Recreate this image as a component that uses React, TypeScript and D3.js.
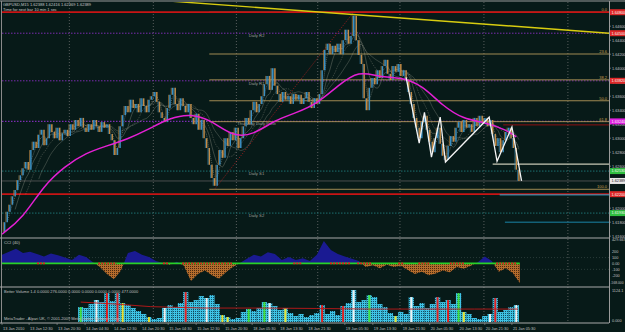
import React from 'react';
import * as d3 from 'd3';

// ---------- DATA ----------
// closes sampled every 3 M15 bars (bar index = 3 * i)
const closes = [
  1.6166, 1.6180, 1.6195, 1.6205, 1.6217, 1.6226, 1.6240, 1.6247, 1.6257, 1.6266,
  1.6255, 1.6283, 1.6295, 1.6286, 1.6305, 1.6312, 1.6290, 1.6300, 1.6320, 1.6309,
  1.6300, 1.6315, 1.6297, 1.6307, 1.6312, 1.6303, 1.6320, 1.6312, 1.6326, 1.6317,
  1.6329, 1.6315, 1.6309, 1.6320, 1.6312, 1.6326, 1.6317, 1.6309, 1.6323, 1.6315,
  1.6320, 1.6306, 1.6297, 1.6276, 1.6286, 1.6317, 1.6333, 1.6346, 1.6337, 1.6355,
  1.6343, 1.6349, 1.6337, 1.6357, 1.6346, 1.6337, 1.6355, 1.6360, 1.6366, 1.6352,
  1.6337, 1.6329, 1.6323, 1.6343, 1.6362, 1.6372, 1.6349, 1.6340, 1.6357, 1.6346,
  1.6337, 1.6349, 1.6329, 1.6320, 1.6335, 1.6312, 1.6326, 1.6300, 1.6286, 1.6262,
  1.6243, 1.6232, 1.6262, 1.6283, 1.6272, 1.6300, 1.6289, 1.6309, 1.6297, 1.6315,
  1.6286, 1.6300, 1.6317, 1.6329, 1.6320, 1.6340, 1.6352, 1.6337, 1.6349, 1.6360,
  1.6377, 1.6389, 1.6369, 1.6400, 1.6375, 1.6363, 1.6352, 1.6366, 1.6355, 1.6360,
  1.6349, 1.6363, 1.6355, 1.6362, 1.6349, 1.6357, 1.6366, 1.6352, 1.6343, 1.6357,
  1.6349, 1.6363, 1.6397, 1.6426, 1.6435, 1.6420, 1.6432, 1.6423, 1.6435, 1.6420,
  1.6440, 1.6455, 1.6435, 1.6446, 1.6475, 1.6440, 1.6419, 1.6406, 1.6357, 1.6340,
  1.6372, 1.6386, 1.6377, 1.6397, 1.6386, 1.6403, 1.6412, 1.6392, 1.6383, 1.6403,
  1.6395, 1.6406, 1.6389, 1.6397, 1.6383, 1.6366, 1.6349, 1.6329, 1.6315, 1.6300,
  1.6323, 1.6332, 1.6312, 1.6295, 1.6280, 1.6300, 1.6315, 1.6292, 1.6275, 1.6269,
  1.6289, 1.6303, 1.6295, 1.6315, 1.6323, 1.6309, 1.6326, 1.6315, 1.6320, 1.6309,
  1.6329, 1.6317, 1.6332, 1.6323, 1.6329, 1.6317, 1.6326, 1.6306, 1.6289, 1.6300,
  1.6280, 1.6297, 1.6309, 1.6315, 1.6300, 1.6286, 1.6255, 1.6239,
];
const CLOSE_STEP = 3;

// slow moving average (magenta)
const magentaBars = [0, 24, 48, 72, 96, 120, 144, 168, 192, 216, 240, 264, 288, 312, 336, 360, 384, 408, 432, 456, 480, 504, 528, 552, 576, 588];
const magentaValues = [1.6163, 1.6186, 1.6233, 1.6260, 1.6279, 1.6289, 1.6299, 1.6313, 1.6329, 1.6335, 1.6325, 1.6302, 1.6305, 1.6326, 1.6336, 1.6349, 1.6375, 1.6397, 1.6387, 1.6387, 1.6376, 1.6346, 1.6327, 1.6323, 1.6312, 1.6302];

// zigzag (white)
const zigBars = [462, 477, 483, 491, 501, 507, 557, 566, 583, 594];
const zigPrices = [1.6387, 1.6293, 1.6337, 1.6273, 1.6330, 1.6266, 1.6330, 1.6267, 1.6316, 1.6239];

// fibonacci
const fibHigh = 1.6480;
const fibLow = 1.6227;
const fibStartBar = 237;
const fibLowBar = 243;
const fibHighBar = 402;
const fibLevels = [0, 23.6, 38.2, 50.0, 61.8, 100.0];
const fibLabels = ['0.0', '23.6', '38.2', '50.0', '61.8', '100.0'];

// pivots
const pivotNames = ['Daily R2', 'Daily R1', 'Thursday Daily Pivot', 'Daily S1', 'Daily S2'];
const pivotPrices = [1.6450, 1.6382, 1.6324, 1.6253, 1.6193];
const pivotLabelBars = [282, 282, 269, 282, 282];

// other horizontal levels
const redLevels = [1.6480, 1.6220];
const bidPrice = 1.62389;
const shortLevelPrices = [1.6263, 1.6319, 1.6219, 1.6180];
const shortLevelStart = [561, 573, 569, 575];

// trend line (yellow)
const trendBars = [180, 694];
const trendPrices = [1.6497, 1.6450];

// CCI(40) sampled every 8 bars
const cciValues = [
  150, 200, 250, 180, 200, 160, 120, 170, 140, 100,
  60, 150, 110, 20, -60, -180, -270, -120, 180, 210,
  150, 110, 40, 10, -20, 30, -40, -300, -180, -120,
  -200, -260, -150, -60, 10, 80, 150, 120, 190, 160,
  60, 110, 60, 90, 40, 150, 380, 230, 160, 120,
  80, 40, -60, -30, -80, -20, -60, -40, -110, -180,
  -140, -200, -170, -120, -150, -60, -90, -40, 20, 120,
  40, -140, -80, -160, -330,
];
const CCI_STEP = 8;
const cciRedStart = [40, 110, 184, 206, 333, 375, 406, 453, 476, 512, 565];
const cciRedEnd = [49, 131, 190, 263, 343, 398, 423, 460, 489, 529, 589];
const cciTickValues = [200, 100, 0, -100, -200];
const cciTickLabels = ['200', '100', '0.00', '-100', '-200'];

// Better Volume sampled every 6 bars from bar 90
const volValues = [
  525, 490, 630, 770, 700, 1015, 735, 1015, 665, 595,
  490, 385, 280, 175, 105, 140, 490, 595, 525, 665,
  1050, 700, 770, 910, 840, 945, 630, 245, 175, 105,
  140, 350, 455, 385, 490, 700, 665, 560, 420, 490,
  315, 210, 280, 175, 245, 315, 595, 280, 385, 245,
  560, 665, 1120, 700, 770, 945, 875, 630, 525, 315,
  210, 350, 280, 875, 560, 665, 490, 630, 875, 700,
  770, 630, 1015, 350, 280, 140, 105, 210, 280, 840,
  350, 420, 525, 595,
];
const volColorCodes = 'gccwcrcryc' + 'cccyccwccc' + 'rcccwccyyc' + 'ccgccgwccy' + 'ccccccrccc' + 'rcwccgcccc' + 'yccwccccrc' + 'rcgyccccwr' + 'cccw';
const VOL_START = 90;
const VOL_STEP = 6;
const volMABars = [90, 130, 170, 230, 300, 360, 420, 480, 540, 590];
const volMAValues = [700, 630, 540, 490, 490, 475, 455, 455, 455, 455];

// axes
const priceTicks = [1.6160, 1.6180, 1.6200, 1.6220, 1.6240, 1.6260, 1.6280, 1.6300, 1.6320, 1.6340, 1.6360, 1.6380, 1.6400, 1.6420, 1.6440, 1.6460];
const axisBoxPrices = [1.6480, 1.6450, 1.6382, 1.6324, 1.6253, 1.62389, 1.6220, 1.6193];
const axisBoxColors = ['#e02828', '#e02828', '#e02828', '#e020e0', '#30c040', '#e8e8e8', '#e02828', '#30c040'];
const timeLabels = ['13 Jan 2010', '13 Jan 12:30', '13 Jan 20:30', '14 Jan 04:30', '14 Jan 12:30', '14 Jan 20:30', '15 Jan 04:30', '15 Jan 12:30', '15 Jan 20:30', '18 Jan 05:30', '18 Jan 13:30', '18 Jan 21:30', '19 Jan 05:30', '19 Jan 13:30', '19 Jan 21:30', '20 Jan 05:30', '20 Jan 13:30', '20 Jan 21:30', '21 Jan 05:30'];
const timeLabelBars = [0, 31, 63, 95, 127, 159, 190, 222, 254, 286, 317, 349, 392, 424, 457, 489, 522, 552, 583];
const gridBars = [77, 173, 268, 361, 455, 551, 647];

const FONT = 'Liberation Sans, Arial, sans-serif';
const BG = '#071a18';

export default function App() {
  const x = d3.scaleLinear().domain([0, 694]).range([2, 609]);
  const y = d3.scaleLinear().domain([1.61574, 1.64946]).range([238, 2]);
  const cciY = d3.scaleLinear().domain([-400, 433]).range([287, 238]);
  const volY = d3.scaleLinear().domain([0, 1124.1]).range([322, 290]);
  const right = x.range()[1];
  const left = x.range()[0];

  const sma = (w: number) =>
    closes.map((_, i) => (i < w - 1 ? null : d3.mean(closes.slice(i - w + 1, i + 1)) as number));
  const maLine = d3
    .line<number | null>()
    .defined((d) => d != null)
    .x((_, i) => x(i * CLOSE_STEP))
    .y((d) => y(d as number))
    .curve(d3.curveMonotoneX);
  const thinMAs = [
    { w: 3, color: '#e6e6d6', dash: '1,1', op: 0.55 },
    { w: 6, color: '#b4b4a4', dash: '', op: 0.5 },
    { w: 10, color: '#9a9a8a', dash: '1.5,1', op: 0.55 },
    { w: 15, color: '#c8c8b8', dash: '', op: 0.4 },
  ];

  const magentaPath = d3
    .line<number>()
    .x((_, i) => x(magentaBars[i]))
    .y((d) => y(d))
    .curve(d3.curveBasis)(magentaValues);

  const zigPath = d3
    .line<number>()
    .x((_, i) => x(zigBars[i]))
    .y((d) => y(d))(zigPrices);

  const cciArea = d3
    .area<number>()
    .x((_, i) => x(i * CCI_STEP))
    .y0(cciY(0))
    .y1((d) => cciY(d));
  const cciPath = cciArea(cciValues) as string;

  const volMAPath = d3
    .line<number>()
    .x((_, i) => x(volMABars[i]))
    .y((d) => volY(d))(volMAValues);

  const volColor: Record<string, string> = { w: '#f0f0f0', g: '#40e040', r: '#e02020', y: '#e8e030' };
  const barW = x(VOL_STEP) - x(0);

  return (
    <svg width={625} height={332} style={{ position: 'absolute', left: 0, top: 0, display: 'block' }}>
      <defs>
        <clipPath id="mainClip"><rect x={left} y={2} width={right - left} height={236} /></clipPath>
        <clipPath id="cciPos"><rect x={left} y={238} width={right - left} height={cciY(0) - 238} /></clipPath>
        <clipPath id="cciNeg"><rect x={left} y={cciY(0)} width={right - left} height={287 - cciY(0)} /></clipPath>
        <pattern id="brownDots" width="2" height="2" patternUnits="userSpaceOnUse">
          <rect width="2" height="2" fill="#b46c2c" />
          <rect width="1" height="1" fill="#4a2a12" />
        </pattern>
        <pattern id="cyanDots" width="2" height="2" patternUnits="userSpaceOnUse">
          <rect width="2" height="2" fill="#3ec4e6" />
          <rect x="1" y="1" width="1" height="1" fill="#145066" />
        </pattern>
      </defs>
      <rect width={625} height={332} fill={BG} />

      {/* vertical grid */}
      {gridBars.map((b, i) => (
        <line key={'g' + i} x1={x(b)} x2={x(b)} y1={2} y2={323} stroke="#7a7a7a" strokeWidth={0.7} strokeDasharray="1,2" />
      ))}

      <g clipPath="url(#mainClip)">
        {/* pivot lines */}
        {pivotPrices.map((p, i) => (
          <line key={'pv' + i} x1={left} x2={right} y1={y(p)} y2={y(p)}
            stroke={i < 3 ? '#7a2cb0' : '#1d7070'} strokeWidth={i === 2 ? 1.4 : 1} strokeDasharray="1.5,1.5" />
        ))}
        {pivotNames.map((n, i) => (
          <text key={'pn' + i} x={x(pivotLabelBars[i])} y={y(pivotPrices[i]) + 4} fontSize={4.2} fill="#9a9a9a" fontFamily={FONT}>{n}</text>
        ))}
        {/* bid line */}
        <line x1={left} x2={right} y1={y(bidPrice)} y2={y(bidPrice)} stroke="#5c5c5c" strokeWidth={0.8} />
        {/* fib lines */}
        {fibLevels.map((f, i) => {
          const p = fibHigh - (f / 100) * (fibHigh - fibLow);
          return (
            <g key={'f' + i}>
              <line x1={x(fibStartBar)} x2={right} y1={y(p)} y2={y(p)} stroke="#a08a52" strokeWidth={1} />
              <text x={right - 2} y={y(p) - 1} fontSize={4} fill="#c8a050" textAnchor="end" fontFamily={FONT}>{fibLabels[i]}</text>
            </g>
          );
        })}
        <line x1={x(fibLowBar)} y1={y(fibLow)} x2={x(fibHighBar)} y2={y(fibHigh)} stroke="#c02020" strokeWidth={0.8} strokeDasharray="1,1.5" />
        {/* red levels */}
        {redLevels.map((p, i) => (
          <line key={'r' + i} x1={left} x2={right} y1={y(p)} y2={y(p)} stroke="#c81414" strokeWidth={1.8} />
        ))}
        {/* short levels */}
        {shortLevelPrices.map((p, i) => (
          <line key={'s' + i} x1={x(shortLevelStart[i])} x2={right} y1={y(p)} y2={y(p)}
            stroke={['#c8c8b4', '#901010', '#30a8d0', '#1a84a8'][i]} strokeWidth={i === 0 ? 1.2 : 1} />
        ))}
        {/* trend line */}
        <line x1={x(trendBars[0])} y1={y(trendPrices[0])} x2={x(trendBars[1])} y2={y(trendPrices[1])} stroke="#d8cc10" strokeWidth={1.4} />
        {/* thin MAs */}
        {thinMAs.map((m, k) => (
          <path key={'ma' + k} d={maLine(sma(m.w)) as string} fill="none" stroke={m.color} strokeWidth={0.6}
            strokeDasharray={m.dash} opacity={m.op} />
        ))}
        {/* price bars */}
        {closes.map((c, i) => {
          if (i === 0) return null;
          const prev = closes[i - 1];
          return (
            <line key={'b' + i} x1={x(i * CLOSE_STEP)} x2={x(i * CLOSE_STEP)} y1={y(prev)} y2={y(c)}
              stroke={c >= prev ? '#3a90c4' : '#c48c46'} strokeWidth={1.5} />
          );
        })}
        {closes.map((c, i) => {
          if (i === 0) return null;
          const prev = closes[i - 1];
          const xm = (x(i * CLOSE_STEP) + x((i - 1) * CLOSE_STEP)) / 2;
          return (
            <line key={'bb' + i} x1={xm} x2={xm} y1={y(prev)} y2={y(c)}
              stroke={c >= prev ? '#c48c46' : '#3a90c4'} strokeWidth={0.8} opacity={0.8} />
          );
        })}
        {/* magenta MA */}
        <path d={magentaPath as string} fill="none" stroke="#e420d4" strokeWidth={1.5} />
        {/* zigzag */}
        <path d={zigPath as string} fill="none" stroke="#f4f4f4" strokeWidth={1.3} />
      </g>

      {/* CCI panel */}
      <line x1={left} x2={right} y1={cciY(100)} y2={cciY(100)} stroke="#4a5a58" strokeWidth={0.5} strokeDasharray="1,2" />
      <line x1={left} x2={right} y1={cciY(-100)} y2={cciY(-100)} stroke="#4a5a58" strokeWidth={0.5} strokeDasharray="1,2" />
      <path d={cciPath} fill="#1a1a92" clipPath="url(#cciPos)" />
      <path d={cciPath} fill="url(#brownDots)" clipPath="url(#cciNeg)" />
      <line x1={x(0)} x2={x((cciValues.length - 1) * CCI_STEP)} y1={cciY(0)} y2={cciY(0)} stroke="#28d028" strokeWidth={1.8} />
      {cciRedStart.map((s, i) => (
        <line key={'cr' + i} x1={x(s)} x2={x(cciRedEnd[i])} y1={cciY(0)} y2={cciY(0)} stroke="#e02020" strokeWidth={1.8} strokeDasharray="2,1" />
      ))}
      <text x={4} y={244} fontSize={4.2} fill="#c0c0c0" fontFamily={FONT}>CCI (40)</text>

      {/* Volume panel */}
      {volValues.map((v, k) => {
        const bx = x(VOL_START + k * VOL_STEP);
        const code = volColorCodes[k];
        return (
          <g key={'v' + k}>
            <rect x={bx - barW / 2} y={volY(v)} width={barW} height={volY(0) - volY(v)} fill="url(#cyanDots)" />
            {code !== 'c' && (
              <rect x={bx - 1} y={volY(v)} width={2} height={volY(0) - volY(v)} fill={volColor[code]} />
            )}
          </g>
        );
      })}
      <path d={volMAPath as string} fill="none" stroke="#c01818" strokeWidth={0.9} />
      <text x={4} y={293} fontSize={4} fill="#c0c0c0" fontFamily={FONT}>Better Volume 1.4 0.0000 276.0000 0.0000 0.0000 0.0000 0.0000 477.0000</text>
      <text x={4} y={320} fontSize={4} fill="#c0c0c0" fontFamily={FONT}>MetaTrader - Alpari UK, © 2001-2009 MetaQuotes Software Corp.</text>

      {/* frames */}
      <line x1={0} x2={625} y1={1} y2={1} stroke="#9a9a9a" strokeWidth={1} />
      <line x1={1.5} x2={1.5} y1={1} y2={323} stroke="#8a8a8a" strokeWidth={1} />
      <line x1={right + 0.5} x2={right + 0.5} y1={1} y2={323} stroke="#9a9a9a" strokeWidth={1} />
      <line x1={0} x2={right} y1={238} y2={238} stroke="#a8a8a8" strokeWidth={1.2} />
      <line x1={0} x2={right} y1={287} y2={287} stroke="#a8a8a8" strokeWidth={1.2} />
      <line x1={0} x2={right} y1={323} y2={323} stroke="#a8a8a8" strokeWidth={1} />

      {/* price axis */}
      {priceTicks.map((p, i) => (
        <g key={'pt' + i}>
          <line x1={right} x2={right + 2} y1={y(p)} y2={y(p)} stroke="#9a9a9a" strokeWidth={0.6} />
          <text x={right + 3} y={y(p) + 1.4} fontSize={3.8} fill="#c0c0c0" fontFamily={FONT}>{p.toFixed(5)}</text>
        </g>
      ))}
      {axisBoxPrices.map((p, i) => (
        <g key={'ab' + i}>
          <rect x={right + 1} y={y(p) - 3} width={16} height={6} fill={axisBoxColors[i]} />
          <text x={right + 2.5} y={y(p) + 1.4} fontSize={3.8} fill={axisBoxColors[i] === '#e8e8e8' ? '#202020' : '#f4f4f4'} fontFamily={FONT}>{p.toFixed(5)}</text>
        </g>
      ))}
      {/* cci axis */}
      <text x={right + 3} y={241} fontSize={3.8} fill="#c0c0c0" fontFamily={FONT}>429.667</text>
      {cciTickValues.map((v, i) => (
        <text key={'ct' + i} x={right + 3} y={cciY(v) + 1.4} fontSize={3.8} fill="#c0c0c0" fontFamily={FONT}>{cciTickLabels[i]}</text>
      ))}
      <text x={right + 1.5} y={284} fontSize={3.3} fill="#c0c0c0" fontFamily={FONT}>-568.000</text>
      {/* volume axis */}
      <text x={right + 3} y={volY(1124.1) + 2} fontSize={3.8} fill="#c0c0c0" fontFamily={FONT}>1124.1</text>
      <text x={right + 3} y={volY(0)} fontSize={3.8} fill="#c0c0c0" fontFamily={FONT}>0.000</text>

      {/* time axis */}
      {timeLabels.map((t, i) => (
        <g key={'t' + i}>
          <line x1={x(timeLabelBars[i])} x2={x(timeLabelBars[i])} y1={323} y2={325} stroke="#9a9a9a" strokeWidth={0.6} />
          <text x={x(timeLabelBars[i]) + 1} y={330} fontSize={3.9} fill="#c0c0c0" fontFamily={FONT}>{t}</text>
        </g>
      ))}

      {/* header */}
      <text x={3} y={5.5} fontSize={4} fill="#c8c8c8" fontFamily={FONT}>GBPUSD,M15  1.62388 1.62416 1.62369 1.62389</text>
      <text x={3} y={10.5} fontSize={4} fill="#c8c8c8" fontFamily={FONT}>Time for next bar 10 min 1 sec</text>
    </svg>
  );
}
